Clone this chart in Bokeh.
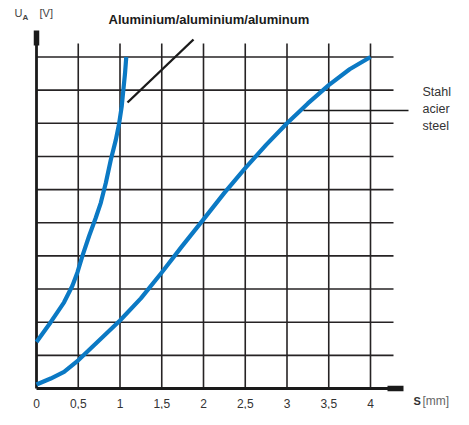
from bokeh.plotting import figure
from bokeh.models import Range1d
from bokeh.embed import file_html
from bokeh.resources import INLINE
from bokeh.core.properties import value

# ---------------- data ----------------
s_ticks = [0, 0.5, 1, 1.5, 2, 2.5, 3, 3.5, 4]
s_labels = ["0", "0,5", "1", "1,5", "2", "2,5", "3", "3,5", "4"]
u_lines = [1, 2, 3, 4, 5, 6, 7, 8, 9, 10]

aluminium_s = [0, 0.17, 0.33, 0.43, 0.49, 0.55, 0.63, 0.71, 0.77, 0.83, 0.89,
               0.95, 0.99, 1.02, 1.04, 1.06, 1.075]
aluminium_u = [1.4, 2.0, 2.6, 3.1, 3.5, 4.0, 4.6, 5.15, 5.6, 6.2, 6.9,
               7.5, 8.0, 8.5, 9.0, 9.5, 10.0]

steel_s = [0, 0.17, 0.33, 0.5, 0.73, 1.0, 1.25, 1.5, 1.73, 2.0, 2.25, 2.5,
           2.75, 3.0, 3.25, 3.5, 3.75, 4.0]
steel_u = [0.12, 0.3, 0.5, 0.85, 1.4, 2.05, 2.72, 3.5, 4.25, 5.1, 5.9, 6.65,
           7.35, 8.0, 8.6, 9.15, 9.63, 10.0]

title_text = "Aluminium/aluminium/aluminum"
steel_text = ["Stahl", "acier", "steel"]

# ---------------- layout helpers (canvas pixels -> data) ----------------
W, H = 453, 409
X0, XS = 36.0, 83.5      # canvas px of s=0, px per mm
Y0, YS = 388.0, 33.15    # canvas px of U=0, px per unit


def sx(px):
    return (px - X0) / XS


def uy(py):
    return (Y0 - py) / YS


p = figure(width=W, height=H,
           x_range=Range1d(sx(0), sx(W)),
           y_range=Range1d(uy(H), uy(0)),
           x_axis_type=None, y_axis_type=None,
           toolbar_location=None, output_backend="svg",
           min_border=0)
p.outline_line_color = None
p.grid.visible = False
p.background_fill_color = "white"

grid_col = "#262324"
# vertical grid lines
vx = [t for t in s_ticks if t > 0]
p.segment(x0=vx, y0=[0] * len(vx), x1=vx, y1=[uy(43)] * len(vx),
          line_color=grid_col, line_width=1.6)
# horizontal grid lines
p.segment(x0=[0] * len(u_lines), y0=u_lines, x1=[sx(393)] * len(u_lines), y1=u_lines,
          line_color=grid_col, line_width=1.6)

# axes with arrow-like heads
p.segment(x0=[0, 0], y0=[0, 0], x1=[sx(402), 0], y1=[0, uy(31)],
          line_color="#1a1a1a", line_width=2.8)
p.segment(x0=[sx(387), 0], y0=[0, uy(45)], x1=[sx(403), 0], y1=[0, uy(30)],
          line_color="#1a1a1a", line_width=5.5)

# curves
blue = "#0b79c4"
p.line(aluminium_s, aluminium_u, line_color=blue, line_width=4.2, line_join="round")
p.line(steel_s, steel_u, line_color=blue, line_width=4.2, line_join="round")

# leader lines
p.segment(x0=[sx(127)], y0=[uy(102)], x1=[sx(193)], y1=[uy(39)],
          line_color="#1a1a1a", line_width=2.4)
p.segment(x0=[sx(303)], y0=[uy(110)], x1=[sx(408)], y1=[uy(110)],
          line_color="#1a1a1a", line_width=1.5)

font = value("Liberation Sans")

# tick labels
p.text(x=s_ticks, y=[uy(402.5)] * len(s_ticks), text=s_labels,
       text_font=font, text_font_size="12px", text_color="#333333",
       text_align="center", text_baseline="middle")

# title
p.text(x=[sx(108)], y=[uy(19)], text=[title_text],
       text_font=font, text_font_size="13px", text_font_style="bold",
       text_color="#1a1a1a", text_align="left", text_baseline="middle")

# steel label
p.text(x=[sx(422)] * 3, y=[uy(91), uy(108), uy(125)], text=steel_text,
       text_font=font, text_font_size="12.5px", text_color="#333333",
       text_align="left", text_baseline="middle")

# axis titles
p.text(x=[sx(14)], y=[uy(12)], text=["U"], text_font=font, text_font_size="11px",
       text_color="#444444", text_align="left", text_baseline="middle")
p.text(x=[sx(22)], y=[uy(17)], text=["A"], text_font=font, text_font_size="8px",
       text_font_style="bold", text_color="#444444", text_align="left", text_baseline="middle")
p.text(x=[sx(39)], y=[uy(12)], text=["[V]"], text_font=font, text_font_size="11px",
       text_color="#444444", text_align="left", text_baseline="middle")

p.text(x=[sx(413)], y=[uy(400)], text=["S"], text_font=font, text_font_size="11px",
       text_font_style="bold", text_color="#333333", text_align="left", text_baseline="middle")
p.text(x=[sx(422)], y=[uy(400)], text=["[mm]"], text_font=font, text_font_size="12px",
       text_color="#666666", text_align="left", text_baseline="middle")

open("out.html", "w").write(file_html(p, INLINE))
